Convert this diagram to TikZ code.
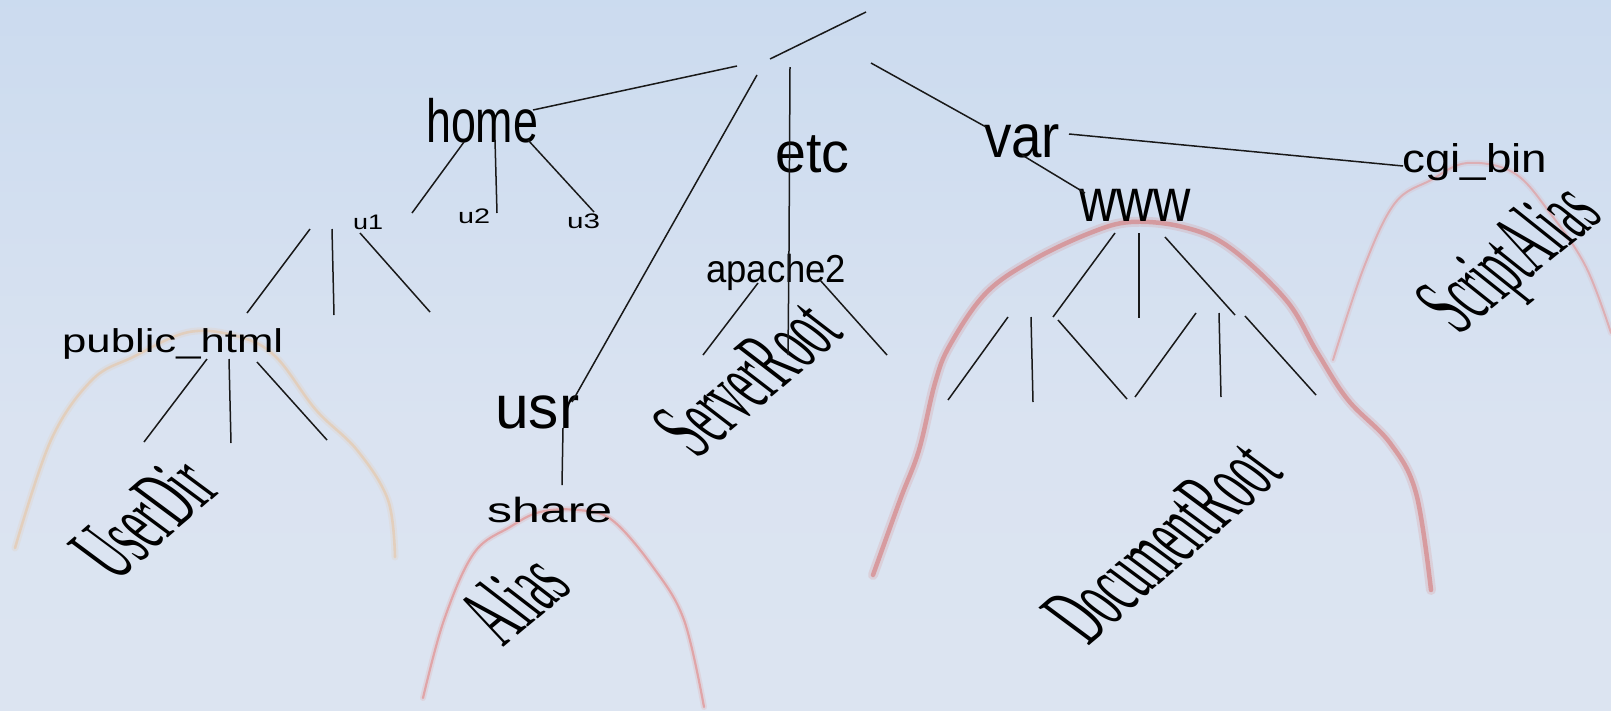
\documentclass[tikz,border=0pt]{standalone}
\usepackage{fontspec}
\usepackage{graphicx}
\setmainfont{Liberation Serif}
\newfontfamily\labsans{Liberation Sans}
\newfontfamily\labserif{Liberation Serif}

\definecolor{bgTop}{RGB}{191,212,237}
\definecolor{bgMid}{RGB}{218,227,241}
\definecolor{bgBot}{RGB}{223,230,242}
\definecolor{inkPeach}{RGB}{232,196,160}
\definecolor{inkRose}{RGB}{226,150,150}
\definecolor{inkRed}{RGB}{214,128,128}
\definecolor{inkBranch}{RGB}{25,25,25}

\pgfdeclareverticalshading{skyfade}{100bp}{color(0bp)=(bgBot); color(45bp)=(bgMid); color(100bp)=(bgTop)}

% directory name: font size, printed width, text
\newcommand{\sanslab}[3]{\resizebox{#2pt}{\height}{\labsans\fontsize{#1pt}{#1pt}\selectfont #3}}
% configuration directive: printed width, text
\newcommand{\seriflab}[2]{\resizebox{#1pt}{\height}{\labserif\fontsize{94pt}{94pt}\selectfont #2}}

\tikzset{
  dirname/.style={inner sep=0pt, anchor=base west, text=black},
  directive/.style={inner sep=0pt, anchor=center, text=black},
  backlean/.style={xslant=-0.22},
  branch/.style={draw=inkBranch, line width=1.5pt},
  halo/.style={line cap=round, line join=round}
}

\begin{document}
\begin{tikzpicture}[x=1pt, y=-1pt]
\useasboundingbox (0,0) rectangle (1611,710);
\shade[shading=skyfade] (0,0) rectangle (1611,710);

% ---------- hand-drawn scope marks ----------
\draw[halo, inkPeach, line width=7pt, opacity=0.18]
  plot[smooth, tension=0.6] coordinates {(15,548) (51,440) (92,380) (133,357) (189,332) (240,337) (276,357) (316,410) (357,450) (388,500) (395,557)};
\draw[halo, inkPeach, line width=2.6pt, opacity=0.55]
  plot[smooth, tension=0.6] coordinates {(15,548) (51,440) (92,380) (133,357) (189,332) (240,337) (276,357) (316,410) (357,450) (388,500) (395,557)};

\draw[halo, inkRose, line width=6pt, opacity=0.2]
  plot[smooth, tension=0.6] coordinates {(423,698) (444,620) (474,553) (510,527) (540,512) (578,510) (612,520) (653,567) (684,620) (704,707)};
\draw[halo, inkRose, line width=2.2pt, opacity=0.75]
  plot[smooth, tension=0.6] coordinates {(423,698) (444,620) (474,553) (510,527) (540,512) (578,510) (612,520) (653,567) (684,620) (704,707)};

\draw[halo, inkRed, line width=10pt, opacity=0.2]
  plot[smooth, tension=0.6] coordinates {(873,575) (900,500) (919,450) (935,383) (950,345) (986,293) (1033,260) (1090,233) (1131,222) (1183,227) (1229,247) (1286,300) (1317,352) (1348,400) (1390,443) (1416,493) (1431,590)};
\draw[halo, inkRed, line width=4.5pt, opacity=0.65]
  plot[smooth, tension=0.6] coordinates {(873,575) (900,500) (919,450) (935,383) (950,345) (986,293) (1033,260) (1090,233) (1131,222) (1183,227) (1229,247) (1286,300) (1317,352) (1348,400) (1390,443) (1416,493) (1431,590)};

\draw[halo, inkRose, line width=6pt, opacity=0.15]
  plot[smooth, tension=0.6] coordinates {(1333,360) (1364,267) (1395,203) (1431,180) (1467,163) (1514,173) (1550,213) (1586,267) (1611,333)};
\draw[halo, inkRose, line width=2pt, opacity=0.6]
  plot[smooth, tension=0.6] coordinates {(1333,360) (1364,267) (1395,203) (1431,180) (1467,163) (1514,173) (1550,213) (1586,267) (1611,333)};

% ---------- directory names ----------
\node[dirname] (home)   at (426,142)  {\sanslab{61}{112}{home}};
\node[dirname] (u1)     at (353,229)  {\sanslab{21}{30}{u1}};
\node[dirname] (u2)     at (458,223)  {\sanslab{21}{32}{u2}};
\node[dirname] (u3)     at (567,228)  {\sanslab{21}{33}{u3}};
\node[dirname] (pub)    at (62,352)   {\sanslab{33}{221}{public\_html}};
\node[dirname] (usr)    at (495,428)  {\sanslab{61}{84}{usr}};
\node[dirname] (share)  at (487,522)  {\sanslab{35}{125}{share}};
\node[dirname] (etc)    at (775,172)  {\sanslab{57}{74}{etc}};
\node[dirname] (apache) at (706,282)  {\sanslab{39}{140}{apache2}};
\node[dirname] (var)    at (984,157)  {\sanslab{61}{76}{var}};
\node[dirname] (www)    at (1079,221) {\sanslab{61}{112}{www}};
\node[dirname] (cgi)    at (1402,172) {\sanslab{40}{145}{cgi\_bin}};

% ---------- Apache directives ----------
\node[directive, rotate=41, backlean] (userdir) at (144,518)  {\seriflab{140}{UserDir}};
\node[directive, rotate=40, backlean] (alias)   at (513,598)  {\seriflab{92}{Alias}};
\node[directive, rotate=40, backlean] (srvroot) at (747,378)  {\seriflab{193}{ServerRoot}};
\node[directive, rotate=41, backlean] (docroot) at (1162,542) {\seriflab{262}{DocumentRoot}};
\node[directive, rotate=39, backlean] (script)  at (1514,262) {\seriflab{188}{ScriptAlias}};

% ---------- branch end points ----------
\coordinate (sky)     at (866,12);
\coordinate (trunk)   at (770,59);
\coordinate (r-home)  at (737,66);   \coordinate (home-in) at (533,110);
\coordinate (r-usr)   at (757,75);   \coordinate (usr-in)  at (572,402);
\coordinate (r-etc)   at (790,67);   \coordinate (etc-mid) at (789,250);
\coordinate (apa-mid) at (788,355);
\coordinate (r-var)   at (871,63);   \coordinate (var-in)  at (986,127);
\coordinate (var-dn)  at (1022,155); \coordinate (www-in)  at (1085,193);
\coordinate (var-rt)  at (1069,134); \coordinate (cgi-in)  at (1403,166);

\coordinate (home-l) at (464,142); \coordinate (u1-in) at (412,213);
\coordinate (home-m) at (495,140); \coordinate (u2-in) at (497,213);
\coordinate (home-r) at (528,140); \coordinate (u3-in) at (594,212);

\coordinate (u1-l) at (310,229); \coordinate (pub-in)  at (247,313);
\coordinate (u1-m) at (332,229); \coordinate (u1-leafm) at (334,315);
\coordinate (u1-r) at (360,233); \coordinate (u1-leafr) at (430,312);

\coordinate (pub-l) at (207,359); \coordinate (pub-leafl) at (144,442);
\coordinate (pub-m) at (229,359); \coordinate (pub-leafm) at (231,443);
\coordinate (pub-r) at (257,362); \coordinate (pub-leafr) at (327,440);

\coordinate (usr-dn) at (563,428); \coordinate (share-in) at (562,485);

\coordinate (apa-l) at (758,283); \coordinate (apa-leafl) at (703,355);
\coordinate (apa-r) at (820,280); \coordinate (apa-leafr) at (887,355);

\coordinate (www-l) at (1115,233); \coordinate (wl) at (1053,317);
\coordinate (www-m) at (1139,233); \coordinate (wm) at (1139,318);
\coordinate (www-r) at (1165,237); \coordinate (wr) at (1235,315);

\coordinate (wl-a) at (1008,317); \coordinate (wl-a2) at (948,400);
\coordinate (wl-b) at (1031,317); \coordinate (wl-b2) at (1033,402);
\coordinate (wl-c) at (1058,320); \coordinate (wl-c2) at (1127,399);
\coordinate (wr-a) at (1196,313); \coordinate (wr-a2) at (1135,397);
\coordinate (wr-b) at (1219,313); \coordinate (wr-b2) at (1221,397);
\coordinate (wr-c) at (1245,316); \coordinate (wr-c2) at (1316,395);

% ---------- branches ----------
\draw[branch] (trunk) -- (sky);
\draw[branch] (r-home) -- (home-in);
\draw[branch] (r-usr) -- (usr-in);
\draw[branch] (r-etc) -- (etc-mid) -- (apa-mid);
\draw[branch] (r-var) -- (var-in);
\draw[branch] (var-dn) -- (www-in);
\draw[branch] (var-rt) -- (cgi-in);

\draw[branch] (home-l) -- (u1-in);
\draw[branch] (home-m) -- (u2-in);
\draw[branch] (home-r) -- (u3-in);

\draw[branch] (u1-l) -- (pub-in);
\draw[branch] (u1-m) -- (u1-leafm);
\draw[branch] (u1-r) -- (u1-leafr);

\draw[branch] (pub-l) -- (pub-leafl);
\draw[branch] (pub-m) -- (pub-leafm);
\draw[branch] (pub-r) -- (pub-leafr);

\draw[branch] (usr-dn) -- (share-in);

\draw[branch] (apa-l) -- (apa-leafl);
\draw[branch] (apa-r) -- (apa-leafr);

\draw[branch] (www-l) -- (wl);
\draw[branch] (www-m) -- (wm);
\draw[branch] (www-r) -- (wr);

\draw[branch] (wl-a) -- (wl-a2);
\draw[branch] (wl-b) -- (wl-b2);
\draw[branch] (wl-c) -- (wl-c2);
\draw[branch] (wr-a) -- (wr-a2);
\draw[branch] (wr-b) -- (wr-b2);
\draw[branch] (wr-c) -- (wr-c2);
\end{tikzpicture}
\end{document}
